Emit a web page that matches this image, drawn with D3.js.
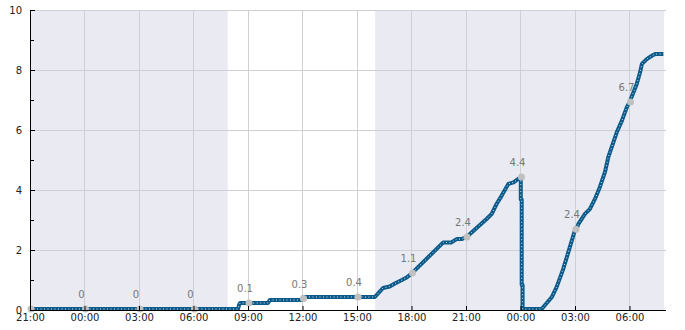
<!DOCTYPE html>
<html>
<head>
<meta charset="utf-8">
<script src="https://cdn.jsdelivr.net/npm/d3@7"></script>
<style>
    body { margin: 0; background: #fff; }
    .axis text { font-family: "DejaVu Sans", sans-serif; font-size: 10px; fill: #222; }
    .axis path, .axis line { stroke: #000; }
</style>
</head>
<body>
<script>
// line series (time, value)
let seriesTimes = [
    "03-01 21:00", "03-02 08:27", "03-02 08:31", "03-02 08:34", "03-02 10:06", "03-02 10:12",
    "03-02 11:58", "03-02 12:02", "03-02 15:59", "03-02 16:26", "03-02 16:48", "03-02 17:05",
    "03-02 17:25", "03-02 17:44", "03-02 18:00", "03-02 19:45", "03-02 20:12", "03-02 20:29",
    "03-02 20:45", "03-02 21:02", "03-02 22:08", "03-02 22:25", "03-02 22:41", "03-02 22:58",
    "03-02 23:20", "03-02 23:37", "03-03 00:01", "03-03 00:01", "03-03 00:04", "03-03 00:04",
    "03-03 00:07", "03-03 00:07", "03-03 01:10", "03-03 01:43", "03-03 01:59", "03-03 02:21",
    "03-03 02:43", "03-03 02:59", "03-03 03:06", "03-03 03:11", "03-03 03:33", "03-03 03:49",
    "03-03 04:06", "03-03 04:22", "03-03 04:39", "03-03 04:50", "03-03 05:07", "03-03 05:18",
    "03-03 05:35", "03-03 05:51", "03-03 06:02", "03-03 06:24", "03-03 06:35", "03-03 06:41",
    "03-03 06:57", "03-03 07:14", "03-03 07:25", "03-03 07:52"
];
let seriesValues = [
    0, 0, 0.15, 0.2, 0.2, 0.3,
    0.3, 0.4, 0.4, 0.7, 0.75, 0.85,
    0.95, 1.05, 1.18, 2.22, 2.22, 2.33,
    2.33, 2.4, 3.0, 3.17, 3.5, 3.78,
    4.17, 4.22, 4.4, 3.65, 3.65, 0.8,
    0.8, 0, 0, 0.39, 0.72, 1.33,
    2.06, 2.6, 2.69, 2.83, 3.17, 3.33,
    3.67, 4.06, 4.56, 5.06, 5.56, 5.89,
    6.28, 6.72, 6.94, 7.5, 7.89, 8.17,
    8.33, 8.44, 8.5, 8.5
];

// labelled markers
let markerTimes = ["03-01 21:00", "03-02 00:00", "03-02 03:00", "03-02 06:00", "03-02 09:00", "03-02 12:00",
    "03-02 15:00", "03-02 18:00", "03-02 21:00", "03-03 00:00", "03-03 03:00", "03-03 06:00"];
let markerValues = [0, 0, 0, 0, 0.2, 0.35, 0.4, 1.2, 2.4, 4.4, 2.66, 6.9];
let markerLabels = ["", "0", "0", "0", "0.1", "0.3", "0.4", "1.1", "2.4", "4.4", "2.4", "6.7"];

// shaded periods
let bandStarts = ["03-01 21:00", "03-02 16:00"];
let bandEnds = ["03-02 07:53", "03-03 07:54"];

let domainStart = "03-01 21:00";
let domainEnd = "03-03 07:54";
let yMajorTicks = [0, 2, 4, 6, 8, 10];
let yMinorTicks = [1, 3, 5, 7, 9];

let svgWidth = 685,
    svgHeight = 330,
    margin = {top: 10, right: 21, bottom: 20, left: 30},
    width = svgWidth - margin.left - margin.right,
    height = svgHeight - margin.top - margin.bottom;

let parse = d3.timeParse("%Y-%m-%d %H:%M");
function t(s) { return parse("2024-" + s); }

let svg = d3.select("body").append("svg")
    .attr("width", svgWidth)
    .attr("height", svgHeight);
let g = svg.append("g")
    .attr("transform", "translate(" + margin.left + "," + margin.top + ")");

let x = d3.scaleTime().domain([t(domainStart), t(domainEnd)]).range([0, width]);
let y = d3.scaleLinear().domain([0, 10]).range([height, 0]);
let xTicks = d3.timeHour.every(3).range(t(domainStart), d3.timeMinute.offset(t(domainEnd), 1));

// background bands
bandStarts.forEach((s, i) => {
    g.append("rect")
        .attr("x", x(t(s)))
        .attr("y", 0)
        .attr("width", x(t(bandEnds[i])) - x(t(s)))
        .attr("height", height)
        .attr("fill", "#eaeaf2");
});

// grid
g.selectAll(".hgrid").data(yMajorTicks).enter().append("line")
    .attr("x1", 0).attr("x2", width + 2)
    .attr("y1", d => Math.round(y(d)) + 0.5).attr("y2", d => Math.round(y(d)) + 0.5)
    .attr("stroke", "#cfcfd4").attr("stroke-width", 1);
g.selectAll(".vgrid").data(xTicks).enter().append("line")
    .attr("x1", d => Math.round(x(d)) + 0.5).attr("x2", d => Math.round(x(d)) + 0.5)
    .attr("y1", 0).attr("y2", height)
    .attr("stroke", "#cfcfd4").attr("stroke-width", 1);

// series line
let points = seriesTimes.map((s, i) => ({t: t(s), v: seriesValues[i]}));
let line = d3.line().x(d => x(d.t)).y(d => y(d.v) - 1);
g.append("path").datum(points)
    .attr("d", line)
    .attr("fill", "none")
    .attr("stroke", "#0b5a8a")
    .attr("stroke-width", 4)
    .attr("stroke-linejoin", "round");
g.append("path").datum(points)
    .attr("d", line)
    .attr("fill", "none")
    .attr("stroke", "#d6e6f2")
    .attr("stroke-width", 1)
    .attr("stroke-dasharray", "1,2.5");

// markers + labels
markerTimes.forEach((s, i) => {
    let mx = x(t(s)) + 1,
        my = y(markerValues[i]) - 1;
    g.append("circle")
        .attr("cx", mx).attr("cy", my).attr("r", 3.5)
        .attr("fill", "#c0c0c0");
    g.append("text")
        .attr("x", mx - 4).attr("y", my - 11)
        .attr("text-anchor", "middle")
        .style("font-family", "DejaVu Sans, sans-serif")
        .style("font-size", "10px")
        .attr("fill", "#777")
        .text(markerLabels[i]);
});

// axes
g.append("g").attr("class", "axis")
    .call(d3.axisLeft(y).tickValues(yMajorTicks).tickSize(-5).tickSizeOuter(0).tickPadding(8));
g.append("g").attr("class", "axis")
    .call(d3.axisLeft(y).tickValues(yMinorTicks).tickSize(-4).tickSizeOuter(0).tickFormat(""));
g.append("g").attr("class", "axis")
    .attr("transform", "translate(0," + height + ")")
    .call(d3.axisBottom(x).tickValues(xTicks).tickSize(-4).tickSizeOuter(0).tickPadding(4)
        .tickFormat(d3.timeFormat("%H:%M")));
g.selectAll(".axis .domain").attr("d", function() {
    return d3.select(this.parentNode).attr("transform") ? "M0,0.5H" + (width + 2) : "M0.5,0V" + height;
});
</script>
</body>
</html>
